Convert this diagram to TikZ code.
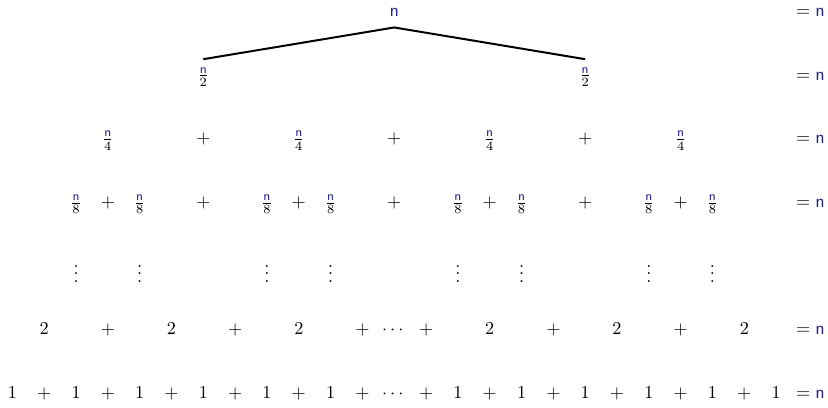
\documentclass[tikz,border=0pt]{standalone}
\usepackage{amsmath}

\definecolor{nblue}{RGB}{35,35,140}
\newcommand{\nn}{\textcolor{nblue}{\mathsf{n}}}

\begin{document}
\begin{tikzpicture}[x=17.5pt, y=-17.5pt, every node/.style={anchor=base}]
\useasboundingbox (-12.39,-0.52) rectangle (13.63,12.27);

% top of the tree
\node[inner ysep=5.8pt] (root) at (0,0) {$\nn$};
\node[inner sep=4.3pt] (h1) at (-6,2) {$\frac{\nn}{2}$};
\node[inner sep=4.3pt] (h2) at (6,2) {$\frac{\nn}{2}$};
\draw[line width=1.1pt] (h1.north) -- (root.south) -- (h2.north);

% n/4 level
\foreach \x [count=\i] in {-9,-3,3,9}
  \node (q\i) at (\x,4) {$\frac{\nn}{4}$};
\foreach \x [count=\i] in {-6,0,6}
  \node (qp\i) at (\x,4) {$+$};

% n/8 level
\foreach \x [count=\i] in {-10,-8,-4,-2,2,4,8,10}
  \node (e\i) at (\x,6) {$\frac{\nn}{8}$};
\foreach \x [count=\i] in {-9,-6,-3,0,3,6,9}
  \node (ep\i) at (\x,6) {$+$};

% vertical dots
\foreach \x [count=\i] in {-10,-8,-4,-2,2,4,8,10}
  \node (v\i) at (\x,8.35) {$\vdots$};

% twos
\foreach \x [count=\i] in {-11,-7,-3,3,7,11}
  \node (t\i) at (\x,10) {$2$};
\foreach \x [count=\i] in {-9,-5,-1,1,5,9}
  \node (tp\i) at (\x,10) {$+$};
\node (tdots) at (0,10) {$\cdots$};

% ones
\foreach \x [count=\i] in {-12,-10,-8,-6,-4,-2,2,4,6,8,10,12}
  \node (o\i) at (\x,12) {$1$};
\foreach \x [count=\i] in {-11,-9,-7,-5,-3,-1,1,3,5,7,9,11}
  \node (op\i) at (\x,12) {$+$};
\node (odots) at (0,12) {$\cdots$};

% row sums
\foreach \y [count=\i from 0] in {0,2,4,6,10,12}
  \node (sum\i) at (13.08,\y) {$=\nn$};

\end{tikzpicture}
\end{document}
